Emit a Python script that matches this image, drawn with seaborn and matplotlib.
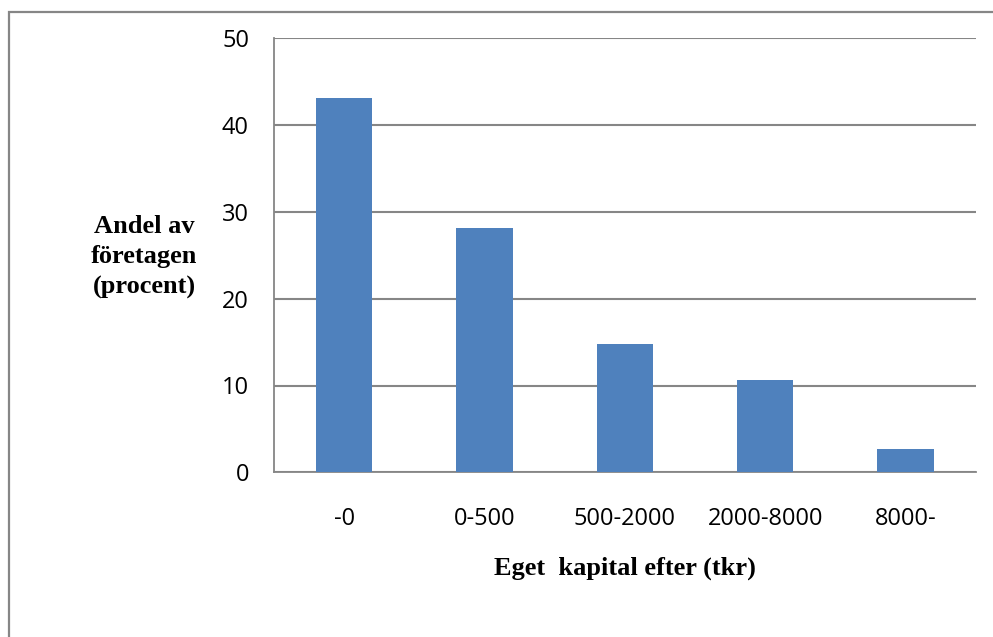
import matplotlib
matplotlib.use("Agg")
import matplotlib.pyplot as plt
from matplotlib.patches import Rectangle
import seaborn as sns
import pandas as pd

# Share of companies by equity bracket (tkr)
categories = ["-0", "0-500", "500-2000", "2000-8000", "8000-"]
shares = [43.1, 28.1, 14.8, 10.6, 2.7]
y_ticks = [0, 10, 20, 30, 40, 50]

df = pd.DataFrame({"kapital": categories, "andel": shares})

sns.set_theme(style="white")
plt.rcParams["font.family"] = ["Open Sans", "DejaVu Sans"]
plt.rcParams["text.color"] = "black"

W, H = 993, 637
fig = plt.figure(figsize=(W / 100, H / 100), dpi=100)
fig.patch.set_facecolor("white")

grid_col = "#868686"
bar_col = "#4F81BD"

# Frame around the chart area (only left and top edges fall inside the canvas)
fig.patches.append(Rectangle((8.5 / W, -0.2), 1.5, 1.2 - 11.5 / H,
                             transform=fig.transFigure, fill=False,
                             edgecolor=grid_col, linewidth=1.6))

ax = fig.add_axes([274 / W, (H - 472.3) / H, (975.7 - 274) / W, 434 / H])
sns.barplot(data=df, x="kapital", y="andel", color=bar_col, saturation=1,
            width=0.4, linewidth=0, ax=ax, zorder=3)

ax.set_ylim(0, 50)
ax.set_xlim(-0.5, len(categories) - 0.5)
ax.set_yticks(y_ticks)
ax.set_yticklabels([str(t) for t in y_ticks])
ax.yaxis.grid(True, color=grid_col, linewidth=1.5, zorder=0)
ax.set_axisbelow(True)
for s in ["top", "right"]:
    ax.spines[s].set_visible(False)
for s in ["left", "bottom"]:
    ax.spines[s].set_color(grid_col)
    ax.spines[s].set_linewidth(1.3)
ax.tick_params(axis="both", length=0, labelsize=17, colors="black",
               labelcolor="black")
ax.tick_params(axis="y", pad=18)
ax.tick_params(axis="x", pad=25)

ax.set_xlabel("")
ax.set_ylabel("")

serif = ["Liberation Serif", "DejaVu Serif"]
fig.text(144 / W, 1 - 257 / H, "Andel av\nföretagen\n(procent)",
         ha="center", va="center", fontsize=19, fontweight="bold",
         family=serif, linespacing=1.4, color="black")
fig.text(624.5 / W, 1 - 568 / H, "Eget  kapital efter (tkr)",
         ha="center", va="center", fontsize=19, fontweight="bold",
         family=serif, color="black")

fig.savefig("out.png", dpi=100, facecolor="white")
